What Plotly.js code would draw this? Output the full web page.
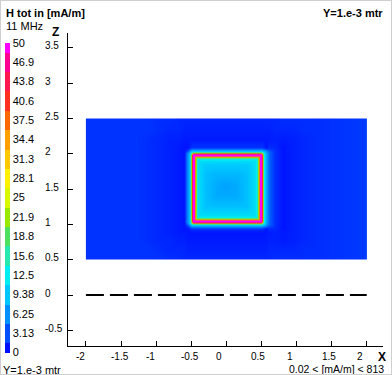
<!DOCTYPE html>
<html><head><meta charset="utf-8">
<script src="https://cdn.plot.ly/plotly-3.0.1.min.js"></script>
<style>
html,body{margin:0;padding:0;background:#fff;}
#wrap{position:relative;width:392px;height:375px;}
#chart{width:392px;height:375px;}
#frame{position:absolute;left:0;top:0;width:392px;height:375px;box-sizing:border-box;border:1px solid #cfcfcf;pointer-events:none;}
</style>
</head><body><div id="wrap"><div id="chart"></div><div id="frame"></div></div>
<script>
// ---- grid coordinates (x across, z up), metres ----
const gridX = [-1.995, -1.985, -1.6, -1.25, -1.1, -0.95, -0.8, -0.68, -0.6, -0.56, -0.54, -0.525, -0.51, -0.495,
  -0.48, -0.465, -0.45, -0.435, -0.42, -0.40, -0.3, -0.15, 0, 0.15, 0.3, 0.41, 0.43, 0.445, 0.46, 0.475, 0.49,
  0.505, 0.52, 0.535, 0.55, 0.57, 0.61, 0.69, 0.81, 0.96, 1.11, 1.26, 1.6, 1.985, 1.995];
const gridZ = [0.505, 0.515, 0.65, 0.78, 0.88, 0.94, 0.98, 0.995, 1.01, 1.025, 1.04, 1.055, 1.07, 1.085, 1.10, 1.12,
  1.25, 1.4, 1.55, 1.7, 1.85, 1.91, 1.93, 1.945, 1.96, 1.975, 1.99, 2.005, 2.02, 2.035, 2.05, 2.09, 2.2, 2.35, 2.485, 2.495];

// ---- field levels (mA/m), one code character per cell ----
const levelCodes = "0123456789abcdefghijklmnopqrst";
const levelValues = [0.2, 0.5, 0.8, 1.1, 1.4, 1.7, 2.0, 2.5, 3.2, 4.2, 5.5, 6.5, 7.2, 7.8, 8.4, 9.0, 9.6, 10.3,
  11.2, 12.5, 14, 17, 21, 26, 31, 36, 42, 47, 60, 100];

// rows from z=0.5 (bottom) to z=2.5 (top); '|' only separates segments for reading
const fieldRows = [
  "55555544333333|33333333333333333|33333344444566",
  "55555544333333|33333333333333333|33333344444566",
  "55555433322222|22222222222222222|22222333344566",
  "55554332211111|11111111111111111|11111221234566",
  "55554321110000|00000000000000000|00001121234566",
  "55554321001345|55555555555555555|54310430234566",
  "55554321059bce|eeeeeeeeeeeeeeeee|ecbca840234566",
  "5555432108bdgi|iiiiiiiiiiiiiiiii|igfeb940234566",
  "5555432109cgjl|mmmmmmmmmmmmmmmmm|lkhfc940234566",
  "555543210aeilo|qqqqqqqqqqqqqqqqq|oljgd940234566",
  "555543210aeimq|ttttttttttttttttt|qmjgd940234566",
  "555543210aeimq|t|sssssssssssssss|t|qmjgd940234566",
  "555543210aeimq|t|sppppppppppppps|t|qmjgd940234566",
  "555543210aeimq|t|spmmmmmmmmmmmps|t|qmjgd940234566",
  "555543210aeimq|t|spmkkkkkkkkkmps|t|qmjgd940234566",
  "555543210aeimq|t|spmkiiiiiiikmps|t|qmjgd940234566",
  "555543210aeimq|t|spmkifffffikmps|t|qmjgd940234566",
  "555543210aeimq|t|spmkifdddfikmps|t|qmjgd940234566",
  "555543210aeimq|t|spmkifdcdfikmps|t|qmjgd940234566",
  "555543210aeimq|t|spmkifeeefikmps|t|qmjgd940234566",
  "555543210aeimq|t|spmkigggggikmps|t|qmjgd940234566",
  "555543210aeimq|t|spmkiiiiiiikmps|t|qmjgd940234566",
  "555543210aeimq|t|spmkkkkkkkkkmps|t|qmjgd940234566",
  "555543210aeimq|t|spmmmmmmmmmmmps|t|qmjgd940234566",
  "555543210aeimq|t|sppppppppppppps|t|qmjgd940234566",
  "555543210aeimq|t|sssssssssssssss|t|qmjgd940234566",
  "555543210aeimq|ttttttttttttttttt|qmjgd940234566",
  "555543210aeilo|qqqqqqqqqqqqqqqqq|oljgd940234566",
  "5555432109cgjl|mmmmmmmmmmmmmmmmm|lkhfc940234566",
  "5555432108bdgi|iiiiiiiiiiiiiiiii|igfeb940234566",
  "55554321059bce|eeeeeeeeeeeeeeeee|ecbca840234566",
  "55554321001345|55555555555555555|54310430234566",
  "55554322111111|11111111111111111|11111121234566",
  "55555433222222|22222222222222222|22222233344566",
  "55555443333333|33333333333333333|33333334444566",
  "55555443333333|33333333333333333|33333334444566"
];

// ---- colour scale ----
const colorLevels = [0, 3.125, 6.25, 9.375, 12.5, 15.625, 18.75, 21.875, 25, 28.125, 31.25, 34.375, 37.5, 40.625, 43.75, 46.875, 50];
const levelColors = ["#0010ff", "#0050ff", "#0090ff", "#00c8ff", "#00eef0", "#28e8b0", "#50e060", "#98e800",
  "#d8f800", "#fff000", "#ffc800", "#ffa000", "#ff6800", "#ff3020", "#ff1850", "#ff0090", "#ff00ff"];
const cbTickVals = [0.02, 3.125, 6.25, 9.375, 12.5, 15.625, 18.75, 21.875, 25, 28.125, 31.25, 34.375, 37.5, 40.625, 43.75, 46.875, 49.98];
const cbTickText = ["0", "3.13", "6.25", "9.38", "12.5", "15.6", "18.8", "21.9", "25", "28.1", "31.3", "34.4",
  "37.5", "40.6", "43.8", "46.9", "50"];

// ---- axes ----
const xTickVals = [-2, -1.5, -1, -0.5, 0, 0.5, 1, 1.5, 2];
const xTickText = ["-2", "-1.5", "-1", "-0.5", "0", "0.5", "1", "1.5", "2"];
const zTickVals = [-0.5, 0, 0.5, 1, 1.5, 2, 2.5, 3, 3.5];
const zTickText = ["-0.5", "0", "0.5", "1", "1.5", "2", "2.5", "3", "3.5"];

// ---- ground line ----
const dashX = [-2, 2];
const dashZ = [0, 0];

const FONT = "Liberation Sans, Arial, Helvetica, sans-serif";

const zField = fieldRows.map(function (r) {
  const s = r.replace(/\|/g, "");
  if (s.length !== gridX.length) console.error("row length", s.length);
  return s.split("").map(function (ch) { return levelValues[levelCodes.indexOf(ch)]; });
});

const zmax = colorLevels[colorLevels.length - 1];
const smoothScale = colorLevels.map(function (v, i) { return [v / zmax, levelColors[i]]; });
const n = colorLevels.length - 1;
const stepScale = [];
levelColors.forEach(function (c, k) {
  const lo = k === 0 ? 0 : (2 * k - 1) / (2 * n);
  const hi = k === n ? 1 : (2 * k + 1) / (2 * n);
  stepScale.push([lo, c]); stepScale.push([hi, c]);
});

const traces = [
  { type: "heatmap", x: gridX, y: gridZ, z: zField, zmin: 0, zmax: zmax, zsmooth: "best",
    colorscale: smoothScale, showscale: false, hoverinfo: "skip" },
  { type: "scatter", mode: "lines", x: dashX, y: dashZ, hoverinfo: "skip",
    line: { color: "#000", width: 2, dash: "18px,6px" } },
  { type: "heatmap", x: [10, 11], y: [10, 11], z: [[0, zmax], [zmax, 0]], zmin: 0, zmax: zmax,
    colorscale: stepScale, showscale: true, hoverinfo: "skip",
    colorbar: { xref: "container", yref: "container", x: 5 / 392, xanchor: "left",
      y: 1 - 51 / 375, yanchor: "top", len: 310, lenmode: "pixels", thickness: 5, thicknessmode: "pixels",
      xpad: 0, ypad: 0, outlinewidth: 0, borderwidth: 0, tickmode: "array", tickvals: cbTickVals,
      ticktext: cbTickText, ticks: "", ticklen: 0, ticklabeloverflow: "allow",
      tickfont: { family: FONT, size: 11, color: "#000" } } }
];

const L = 68, T = 33, W = 315, H = 313;
function px(x) { return (x - L) / W; }
function py(y) { return (T + H - y) / H; }

const ann = [];
zTickVals.forEach(function (v, i) {
  ann.push({ xref: "paper", yref: "y", x: px(43), y: v, xanchor: "left", yanchor: "middle", yshift: 2,
    text: zTickText[i], showarrow: false, font: { family: FONT, size: 10, color: "#000" } });
});
xTickVals.forEach(function (v, i) {
  ann.push({ xref: "x", yref: "paper", x: v, y: py(356.5), xanchor: "left", xshift: -12, yanchor: "middle",
    text: xTickText[i], showarrow: false, font: { family: FONT, size: 10, color: "#000" } });
});
const txt = [
  ["<b>H tot in [mA/m]</b>", 4, 12.5, "left", 11],
  ["11 MHz", 4, 26, "left", 11],
  ["<b>Y=1.e-3 mtr</b>", 385, 13, "right", 11],
  ["<b>Z</b>", 55, 31.5, "center", 12],
  ["<b>X</b>", 381.5, 356.5, "center", 12],
  ["Y=1.e-3 mtr", 1, 369.5, "left", 11],
  ["0.02 &lt; [mA/m] &lt; 813", 386, 368.5, "right", 10.5]
];
txt.forEach(function (t) {
  ann.push({ xref: "paper", yref: "paper", x: px(t[1]), y: py(t[2]), xanchor: t[3], yanchor: "middle",
    text: t[0], showarrow: false, font: { family: FONT, size: t[4], color: "#000" } });
});

const axisCommon = { showline: true, linecolor: "#000", linewidth: 1, ticks: "inside", ticklen: 5,
  tickcolor: "#000", tickwidth: 1, showticklabels: false, showgrid: false, zeroline: false, fixedrange: true };

const layout = {
  width: 392, height: 375, autosize: false,
  margin: { l: L, r: 392 - L - W, t: T, b: 375 - T - H, pad: 0, autoexpand: false },
  paper_bgcolor: "#fff", plot_bgcolor: "#fff", showlegend: false,
  font: { family: FONT, size: 10, color: "#000" },
  xaxis: Object.assign({ range: [-2.255, 2.232], tickvals: xTickVals }, axisCommon),
  yaxis: Object.assign({ range: [-0.722, 3.711], tickvals: zTickVals }, axisCommon),
  annotations: ann
};

Plotly.newPlot("chart", traces, layout, { staticPlot: true, displayModeBar: false });
</script></body></html>
